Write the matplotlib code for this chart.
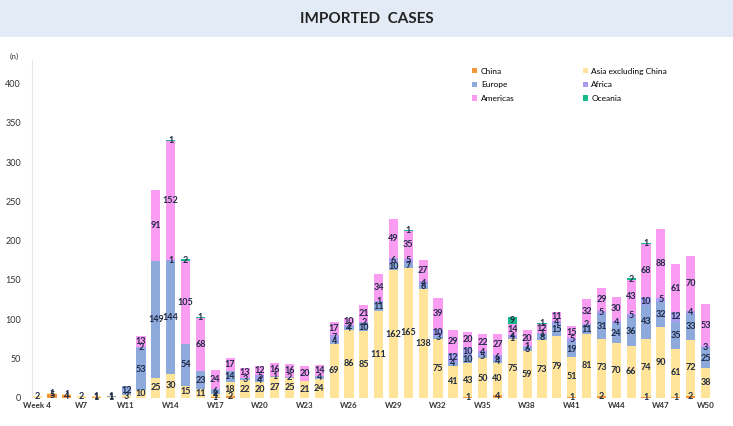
import matplotlib.pyplot as plt
from matplotlib.patches import Rectangle
import numpy as np

plt.rcParams['font.family'] = ['Lato', 'DejaVu Sans']

# week labels for each bar (only every third one is shown on the axis)
weeks = ["Week 4", "W5", "W6", "W7", "W8", "W9", "W11", "W12", "W13", "W14",
         "W15", "W16", "W17", "W18", "W19", "W20", "W21", "W22", "W23", "W24",
         "W25", "W26", "W27", "W28", "W29", "W30", "W31", "W32", "W33", "W34",
         "W35", "W36", "W37", "W38", "W39", "W40", "W41", "W42", "W43", "W44",
         "W45", "W46", "W47", "W48", "W49", "W50"]

china = [0, 5, 4, 0, 1, 0, 0, 0, 0, 0, 0, 0, 1, 2, 0, 0, 0, 0, 0, 0, 0, 0, 0,
         0, 0, 0, 0, 0, 0, 1, 0, 4, 0, 0, 0, 0, 1, 0, 2, 0, 0, 1, 0, 1, 2, 0]
asia = [2, 1, 1, 2, 1, 1, 3, 10, 25, 30, 15, 11, 4, 18, 22, 20, 27, 25, 21, 24,
        69, 86, 85, 111, 162, 165, 138, 75, 41, 43, 50, 40, 75, 59, 73, 79, 51,
        81, 73, 70, 66, 74, 90, 61, 72, 38]
europe = [0, 0, 0, 0, 0, 1, 12, 53, 149, 144, 54, 23, 6, 14, 3, 4, 1, 2, 0, 4,
          4, 4, 10, 11, 10, 7, 6, 3, 4, 10, 5, 4, 1, 6, 8, 15, 19, 11, 31, 24,
          36, 43, 32, 35, 33, 25]
africa = [0, 0, 0, 0, 0, 0, 0, 2, 0, 1, 0, 0, 0, 0, 0, 5, 0, 0, 0, 0,
          7, 2, 2, 1, 6, 5, 4, 10, 12, 10, 4, 6, 4, 1, 1, 4, 5, 2, 5, 4,
          5, 10, 5, 12, 4, 3]
americas = [0, 0, 0, 0, 0, 0, 0, 13, 91, 152, 105, 68, 24, 17, 13, 12, 16, 16,
            20, 14, 17, 10, 21, 34, 49, 35, 27, 39, 29, 20, 22, 27, 14, 20, 12,
            11, 15, 32, 29, 30, 43, 68, 88, 61, 70, 53]
oceania = [0, 0, 0, 0, 0, 0, 0, 0, 0, 1, 2, 1, 0, 0, 0, 0, 0, 0, 0, 0,
           0, 0, 0, 0, 0, 1, 0, 0, 0, 0, 0, 0, 9, 0, 1, 0, 0, 0, 0, 0,
           2, 1, 0, 0, 0, 0]

series = [("China", china, "#F4963A"),
          ("Asia excluding China", asia, "#FFE49A"),
          ("Europe", europe, "#8EA9DB"),
          ("Africa", africa, "#A79CF0"),
          ("Americas", americas, "#F99CF2"),
          ("Oceania", oceania, "#16B98A")]

fig = plt.figure(figsize=(7.33, 4.26), dpi=100)

# title band
fig.patches.append(Rectangle((0, 0.913), 1, 0.087, transform=fig.transFigure,
                             facecolor="#E3ECF6", edgecolor="none", zorder=0))
fig.text(0.5, 0.956, "IMPORTED  CASES", ha="center", va="center",
         fontsize=11, fontweight="bold", color="#222222")

ax = fig.add_axes([0.0437, 0.0664, 0.945, 0.7927])
x = np.arange(len(weeks))
bottom = np.zeros(len(weeks))
handles = []
for name, vals, col in series:
    vals = np.array(vals)
    bars = ax.bar(x, vals, 0.62, bottom=bottom, color=col, label=name)
    labels = [str(v) if v > 0 else "" for v in vals]
    ax.bar_label(bars, labels=labels, label_type="center", fontsize=6.5,
                 fontweight="bold", color="#1F2A44")
    bottom += vals
    handles.append(bars)

ax.set_xlim(-0.34, 46.3)
ax.set_ylim(0, 430)
ax.set_yticks(range(0, 401, 50))
ax.set_xticks(x[::3])
ax.set_xticklabels(weeks[::3], fontsize=5.8, fontweight="bold", color="#333333")
ax.tick_params(axis="y", labelsize=6.5, colors="#333333", length=0, pad=8)
ax.tick_params(axis="x", length=0, pad=3)
for s in ["top", "right", "bottom"]:
    ax.spines[s].set_visible(False)
ax.spines["left"].set_color("#E6E6E6")
ax.text(-0.033, 1.01, "(n)", transform=ax.transAxes, fontsize=6, color="#333333",
        ha="left", va="center")

# legend reads row by row: China | Asia, Europe | Africa, Americas | Oceania
order = [0, 2, 4, 1, 3, 5]
ax.legend(handles=[handles[i] for i in order], ncol=2, loc="upper left",
          bbox_to_anchor=(0.625, 1.0), frameon=False, fontsize=6,
          handlelength=0.6, handleheight=0.6, columnspacing=8.2,
          labelspacing=0.8, handletextpad=0.4)

fig.savefig("out.png", dpi=100)
